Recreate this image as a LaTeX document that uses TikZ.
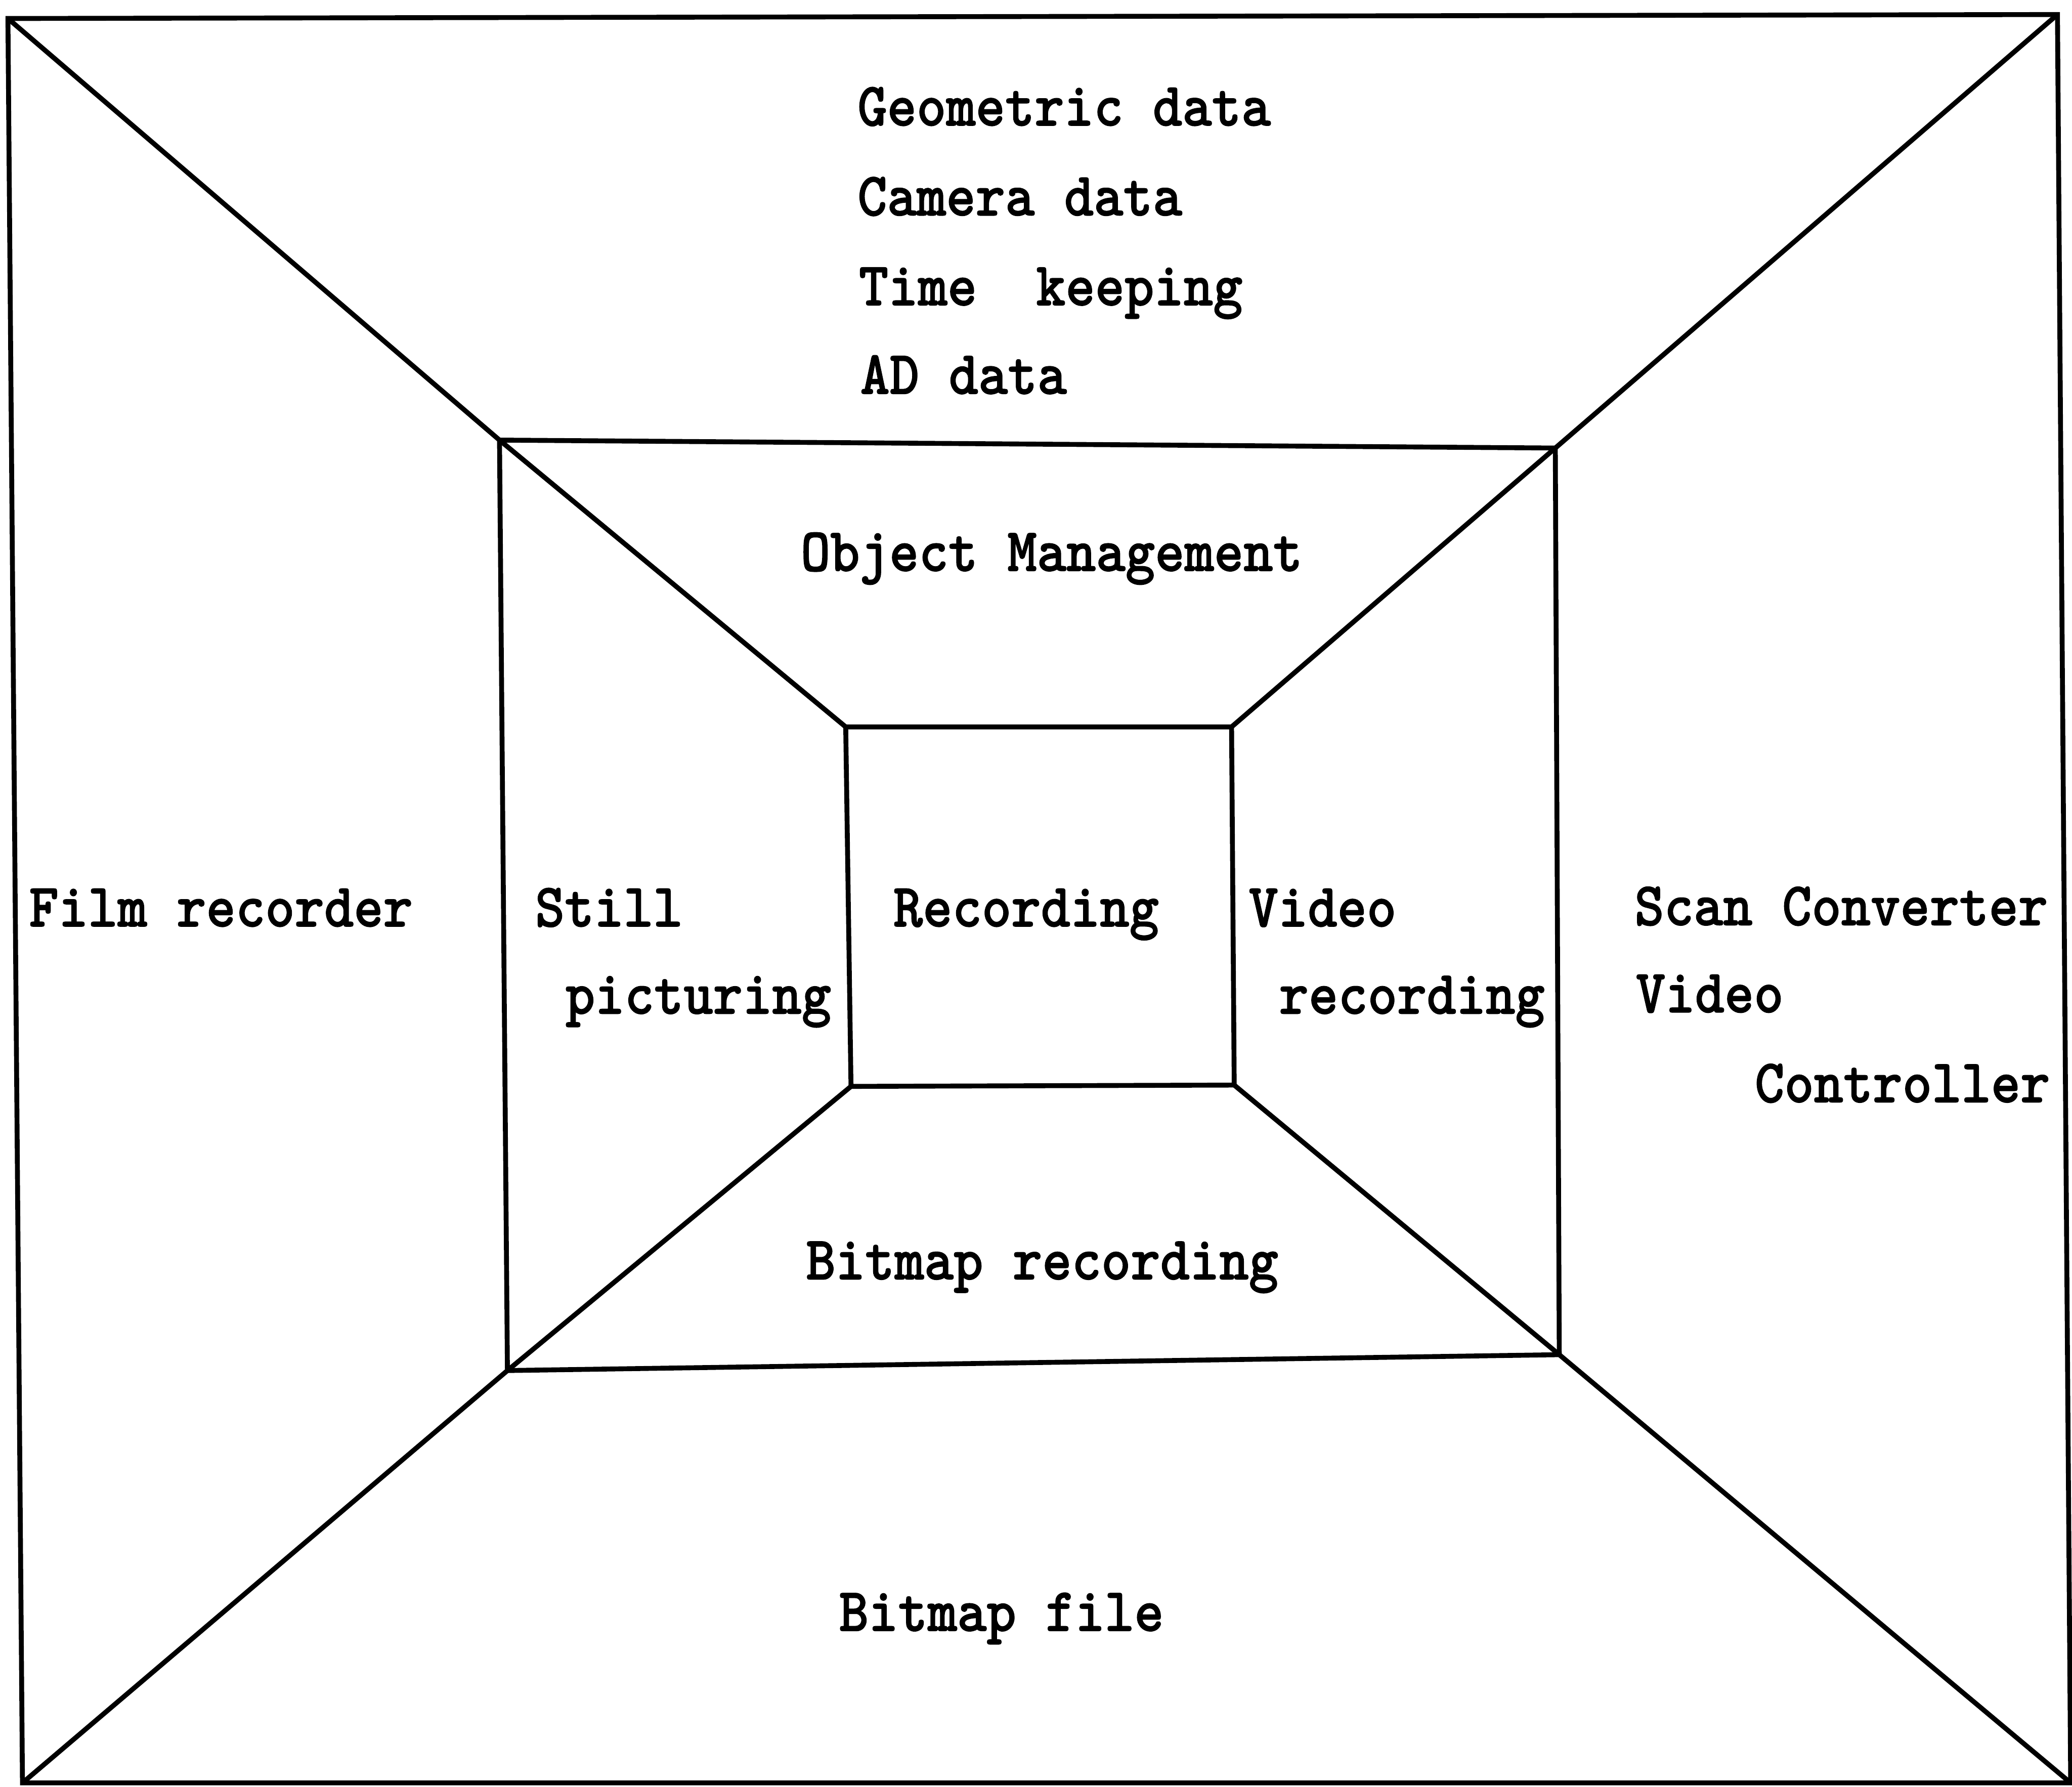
\documentclass[tikz,border=0pt]{standalone}
\usepackage{graphicx}
\usepackage{fontspec}
\newfontfamily\typewriterbold{lmmonolt10-bold}[Extension=.otf, FakeBold=1.2]
\newcommand\tallbox[1]{\scalebox{1}[1.1]{#1}}
\tikzset{
  frame/.style={draw=black, line width=1.05pt, line join=miter},
  lbl/.style={anchor=base west, inner sep=0pt, outer sep=0pt,
    font=\typewriterbold\fontsize{12.1}{14}\selectfont}
}
\begin{document}
\begin{tikzpicture}[x=0.01cm, y=-0.01cm]
  \useasboundingbox (0,0) rectangle (1568,1352);

  % outer frame corners
  \coordinate (o1) at (6,14);
  \coordinate (o2) at (1557,11);
  \coordinate (o3) at (1567,1349);
  \coordinate (o4) at (17,1349);
  % middle frame corners
  \coordinate (m1) at (378,333);
  \coordinate (m2) at (1177,339);
  \coordinate (m3) at (1180,1025);
  \coordinate (m4) at (384,1037);
  % inner frame corners
  \coordinate (i1) at (640,550);
  \coordinate (i2) at (932,550);
  \coordinate (i3) at (934,821);
  \coordinate (i4) at (644,822);

  % three nested frames
  \draw[frame] (o1) -- (o2) -- (o3) -- (o4) -- cycle;
  \draw[frame] (m1) -- (m2) -- (m3) -- (m4) -- cycle;
  \draw[frame] (i1) -- (i2) -- (i3) -- (i4) -- cycle;

  % corner edges of the tunnel
  \draw[frame] (o1) -- (m1) -- (i1);
  \draw[frame] (o2) -- (m2) -- (i2);
  \draw[frame] (o3) -- (m3) -- (i3);
  \draw[frame] (o4) -- (m4) -- (i4);

  % top panel
  \node[lbl] (geo) at (649,95)  {\tallbox{Geometric data}};
  \node[lbl] (cam) at (649,163) {\tallbox{Camera data}};
  \node[lbl] (tim) at (650,231) {\tallbox{Time\ \ keeping}};
  \node[lbl] (ad)  at (651,298) {\tallbox{AD data}};

  % second ring, top
  \node[lbl] (obj) at (606,432) {\tallbox{Object Management}};

  % left side
  \node[lbl] (film) at (22,701)  {\tallbox{Film recorder}};
  \node[lbl] (st1)  at (405,701) {\tallbox{Still}};
  \node[lbl] (st2)  at (428,767) {\tallbox{picturing}};

  % centre
  \node[lbl] (rec) at (676,701) {\tallbox{Recording}};

  % right side
  \node[lbl] (vr1) at (945,701)  {\tallbox{Video}};
  \node[lbl] (vr2) at (968,767)  {\tallbox{recording}};
  \node[lbl] (sc1) at (1237,700) {\tallbox{Scan Converter}};
  \node[lbl] (sc2) at (1238,766) {\tallbox{Video}};
  \node[lbl] (sc3) at (1328,834) {\tallbox{Controller}};

  % bottom panels
  \node[lbl] (bmr) at (610,968)  {\tallbox{Bitmap recording}};
  \node[lbl] (bmf) at (635,1234) {\tallbox{Bitmap file}};
\end{tikzpicture}
\end{document}
